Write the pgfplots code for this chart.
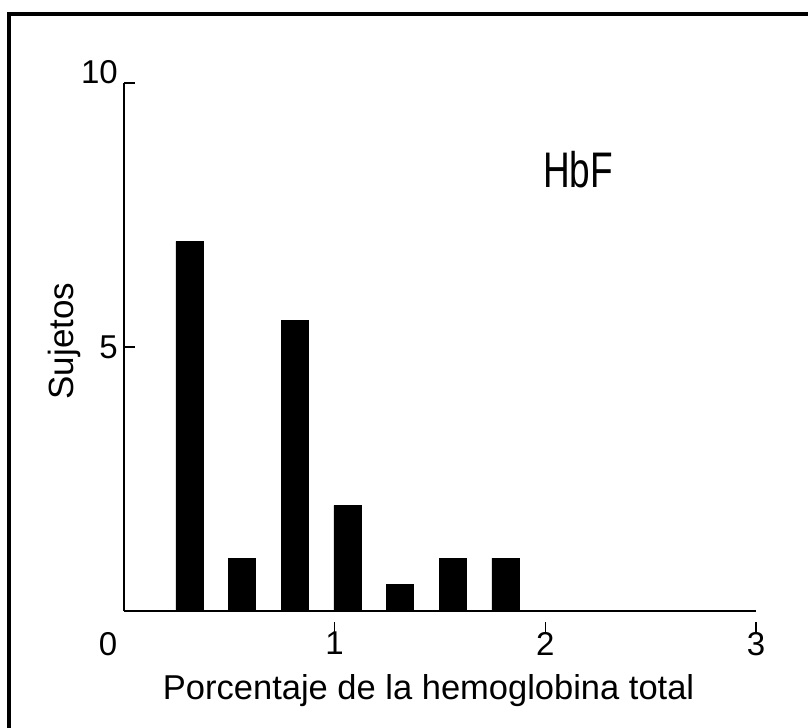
\documentclass[border=0pt]{standalone}
\usepackage{fontspec}
\setmainfont{Liberation Sans}
\usepackage{pgfplots}
\pgfplotsset{compat=1.18}

\begin{document}
\begin{tikzpicture}
\useasboundingbox (0,0) rectangle (808bp,728bp);
% open frame (top and left only)
\draw[line width=4bp] (8.5bp,0) -- (8.5bp,714bp) -- (808bp,714bp);
\begin{axis}[
    at={(124bp,117bp)}, anchor=south west,
    scale only axis,
    width=632bp, height=528bp,
    xmin=0, xmax=3, ymin=0, ymax=10,
    axis x line*=bottom, axis y line*=left,
    every outer x axis line/.append style={line width=1.8bp},
    every outer y axis line/.append style={line width=1.8bp},
    tick align=inside,
    major tick length=11bp,
    every tick/.style={line width=1.6bp, black},
    xtick={1,2,3},
    xtick style={yshift=-11bp},
    extra x ticks={0},
    extra x tick style={major tick length=0pt, xticklabel style={xshift=-16bp, yshift=-11bp}},
    ytick={5},
    extra y ticks={10},
    extra y tick style={yticklabel style={yshift=11bp}},
    /pgf/number format/assume math mode=true,
    ticklabel style={font=\fontsize{33bp}{36bp}\selectfont, inner sep=0pt},
    xticklabel style={anchor=north, yshift=-10bp},
    yticklabel style={anchor=east, xshift=-6bp},
    xlabel={Porcentaje de la hemoglobina total},
    xlabel style={font=\fontsize{34.5bp}{38bp}\selectfont, at={(rel axis cs:0.482,0)}, anchor=base, yshift=-88bp},
    ylabel={Sujetos},
    ylabel style={font=\fontsize{35bp}{38bp}\selectfont, at={(rel axis cs:0,0.511)}, anchor=base, yshift=51bp},
    ybar, bar width=0.128,
    clip=false,
]
\addplot[fill=black, draw=black] coordinates {
    (0.31,7) (0.56,1) (0.81,5.5) (1.06,2) (1.31,0.5) (1.56,1) (1.81,1)
};
\node[font=\fontsize{50bp}{54bp}\selectfont, xscale=0.74] at (axis cs:2.155,8.35) {HbF};
\end{axis}
\end{tikzpicture}
\end{document}
